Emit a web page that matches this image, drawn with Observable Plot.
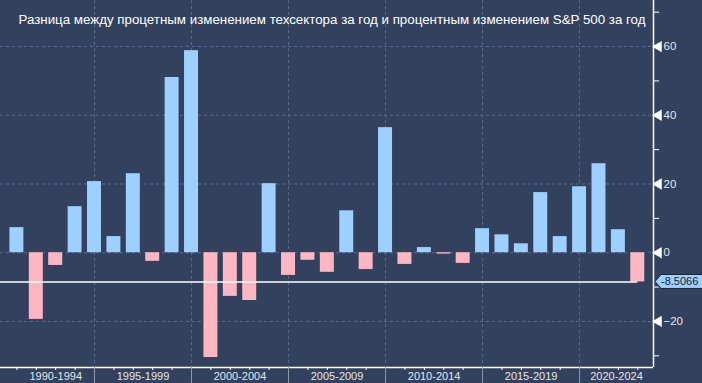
<!DOCTYPE html>
<html>
<head>
<meta charset="utf-8">
<script src="https://cdn.jsdelivr.net/npm/d3@7"></script>
<script src="https://cdn.jsdelivr.net/npm/@observablehq/plot@0.6"></script>
<style>
  html, body { margin: 0; padding: 0; background: #32415e; }
  #chart { width: 702px; height: 383px; overflow: hidden; }
</style>
</head>
<body>
<div id="chart"></div>
<script>
// ---- data ----
const titleText = "Разница между процетным изменением техсектора за год и процентным изменением S&P 500 за год";
const years = [1990, 1991, 1992, 1993, 1994, 1995, 1996, 1997, 1998, 1999,
               2000, 2001, 2002, 2003, 2004, 2005, 2006, 2007, 2008, 2009,
               2010, 2011, 2012, 2013, 2014, 2015, 2016, 2017, 2018, 2019,
               2020, 2021, 2022];
const diffs = [7.3, -19.4, -3.7, 13.4, 20.7, 4.7, 23.0, -2.5, 51.0, 58.8,
               -30.5, -12.7, -13.9, 20.1, -6.6, -2.2, -5.7, 12.2, -4.9, 36.4,
               -3.4, 1.5, -0.4, -3.1, 7.0, 5.2, 2.6, 17.5, 4.7, 19.2,
               25.9, 6.7, -8.5066];
const periodStarts = [1990, 1995, 2000, 2005, 2010, 2015, 2020];
const periodLabels = ["1990-1994", "1995-1999", "2000-2004", "2005-2009", "2010-2014", "2015-2019", "2020-2024"];
const yMajor = [60, 40, 20, 0, -20];
const yMinor = [70, 50, 30, 10, -10, -30];
const lastLabel = "-8.5066";

// ---- styling ----
const bg = "#32415e";
const posColor = "#9dd0ff";
const negColor = "#ffb6c3";
const gridColor = "#5a6c90";
const xDomain = [1990.155, 2023.81];
const yDomain = [-33.4, 73.4];
const halfBar = 0.36;

const data = years.map((y, i) => ({year: y, value: diffs[i]}));
const last = data[data.length - 1];
const firstPos = data[0].year + 1;
const labelCenters = periodStarts.map(s => (Math.max(s, firstPos) + Math.min(s + 5, xDomain[1])) / 2);
const minorYears = d3.range(1991, 2024).filter(y => y % 5 !== 0);

const tagMark = (index, scales) => {
  const y = scales.y(last.value);
  const x0 = scales.x(xDomain[1]) + 2;
  const g = d3.create("svg:g");
  const h = 7;
  g.append("path")
    .attr("d", `M${x0},${y} L${x0 + 6},${y - h} H${x0 + 60} V${y + h} H${x0 + 6} Z`)
    .attr("fill", posColor)
    .attr("stroke", "#1b2538")
    .attr("stroke-width", 1)
    .attr("stroke-linejoin", "round");
  g.append("text")
    .attr("x", x0 + 6)
    .attr("y", y)
    .attr("dy", "0.35em")
    .attr("text-anchor", "start")
    .attr("fill", "#1a2335")
    .attr("font-size", 11)
    .text(lastLabel);
  return g.node();
};

const chart = Plot.plot({
  width: 702,
  height: 383,
  marginTop: 0,
  marginRight: 49,
  marginBottom: 16,
  marginLeft: 0,
  style: {background: bg, color: "#e4e6ea", fontFamily: "'Liberation Sans', Arial, sans-serif", fontSize: "11px"},
  x: {domain: xDomain, axis: null},
  y: {domain: yDomain, axis: null},
  marks: [
    Plot.ruleY(yMajor, {stroke: gridColor, strokeDasharray: "3,3", strokeWidth: 1}),
    Plot.ruleX(periodStarts.slice(1), {stroke: gridColor, strokeDasharray: "3,3", strokeWidth: 1}),
    Plot.rectY(data, {
      x1: d => d.year + 1 - halfBar,
      x2: d => d.year + 1 + halfBar,
      y1: 0,
      y2: "value",
      fill: d => d.value >= 0 ? posColor : negColor
    }),
    Plot.ruleY([last], {y: "value", x1: xDomain[0], x2: d => d.year + 1, stroke: "white", strokeWidth: 1.5}),
    Plot.ruleY([yDomain[0]], {stroke: "white", strokeWidth: 1.5}),
    Plot.ruleX([xDomain[1]], {stroke: "white", strokeWidth: 1.5}),
    Plot.axisY({anchor: "right", ticks: yMajor, tickSize: 0, tickPadding: 10, label: null, fill: "#e4e6ea", fontSize: 11.5}),
    Plot.axisY({anchor: "right", ticks: yMinor, tickSize: 5, tickFormat: () => "", label: null, stroke: "white"}),
    Plot.dot(yMajor, {y: d => d, frameAnchor: "right", dx: 5, symbol: "triangle", rotate: -90, r: 4.2, fill: "white", stroke: null}),
    Plot.axisX({ticks: minorYears, tickSize: 3, tickFormat: () => "", label: null, stroke: "white"}),
    Plot.axisX({ticks: periodStarts.slice(1), tickSize: 16, tickFormat: () => "", label: null, stroke: "#8f99ab"}),
    Plot.text(periodLabels, {
      x: (d, i) => labelCenters[i],
      text: d => d,
      frameAnchor: "bottom",
      lineAnchor: "middle",
      dy: 8.5,
      fill: "#e4e6ea",
      stroke: bg,
      strokeWidth: 3,
      fontSize: 11
    }),
    Plot.text([titleText], {
      text: d => d,
      frameAnchor: "top-left",
      textAnchor: "start",
      lineAnchor: "middle",
      dx: 18,
      dy: 19,
      fill: "white",
      fontSize: 13
    }),
    tagMark
  ]
});

document.getElementById("chart").appendChild(chart);

// fit title to reference width
for (const t of chart.querySelectorAll("text")) {
  if (t.textContent === titleText) {
    t.setAttribute("textLength", 627);
    t.setAttribute("lengthAdjust", "spacingAndGlyphs");
  }
}
</script>
</body>
</html>
